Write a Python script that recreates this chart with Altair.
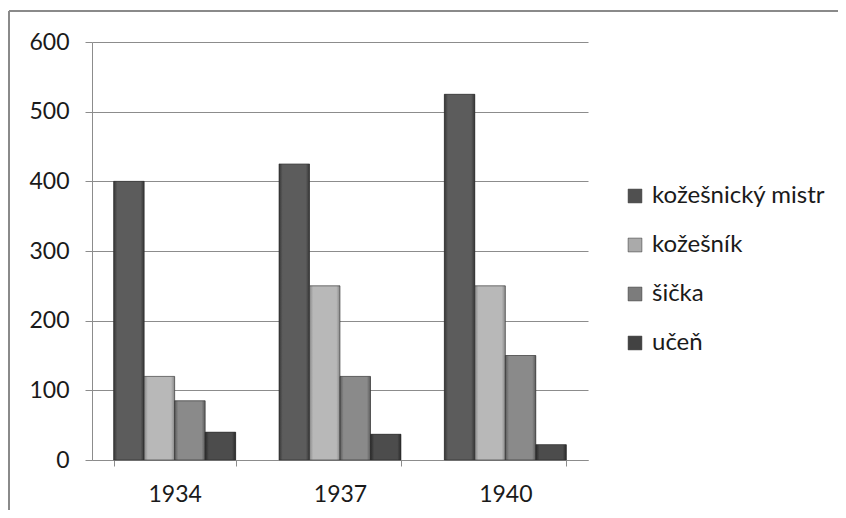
import altair as alt
import pandas as pd

years = ["1934", "1937", "1940"]
series = ["kožešnický mistr", "kožešník", "šička", "učeň"]
values = {
    "kožešnický mistr": [400, 425, 525],
    "kožešník": [120, 250, 250],
    "šička": [85, 120, 150],
    "učeň": [40, 37, 22],
}
colors = ["#505050", "#aaaaaa", "#7c7c7c", "#424242"]
edge_colors = ["#363636", "#888888", "#5c5c5c", "#2a2a2a"]
light_colors = ["#5c5c5c", "#b8b8b8", "#8a8a8a", "#4c4c4c"]

rows = []
for s in series:
    for y, v in zip(years, values[s]):
        rows.append({"rok": y, "profese": s, "pocet": v})
df = pd.DataFrame(rows)

FONT = "Lato"

x_enc = alt.X("rok:N", sort=years, title=None,
              scale=alt.Scale(paddingInner=0.262, paddingOuter=0.131),
              axis=alt.Axis(labelAngle=0, tickBand="extent", tickSize=6, labelPadding=17,
                            labelFontSize=23, labelColor="#1a1a1a", labelFont=FONT,
                            domainColor="#8c8c8c", tickColor="#8c8c8c", grid=False))
xo_enc = alt.XOffset("profese:N", sort=series,
                     scale=alt.Scale(domain=series, paddingInner=0, paddingOuter=0))
y_enc = alt.Y("pocet:Q", title=None,
              scale=alt.Scale(domain=[0, 600], nice=False),
              axis=alt.Axis(values=[0, 100, 200, 300, 400, 500, 600], tickSize=7, labelPadding=16,
                            labelFontSize=23, labelColor="#1a1a1a", labelFont=FONT,
                            domainColor="#8c8c8c", tickColor="#8c8c8c",
                            grid=True, gridColor="#8c8c8c", gridWidth=1))

bars = alt.Chart(df).mark_bar().encode(
    x=x_enc, xOffset=xo_enc, y=y_enc,
    color=alt.Color("profese:N", sort=series, title=None,
                    scale=alt.Scale(domain=series, range=colors),
                    legend=alt.Legend(orient="none", legendX=531, legendY=142,
                                      symbolType="square", symbolSize=190,
                                      symbolStrokeColor="#2a2a2a", symbolStrokeWidth=0.5,
                                      labelFontSize=24, labelFont=FONT, labelColor="#1a1a1a",
                                      labelLimit=400, rowPadding=25, labelOffset=5)),
)

overlays = []
for s, c_edge, c_mid in zip(series, edge_colors, light_colors):
    overlays.append(
        alt.Chart(df).transform_filter(alt.datum.profese == s).mark_bar(
            color=alt.Gradient(gradient="linear", x1=0, x2=1, y1=0, y2=0,
                               stops=[alt.GradientStop(offset=0, color=c_edge),
                                      alt.GradientStop(offset=0.12, color=c_mid),
                                      alt.GradientStop(offset=0.88, color=c_mid),
                                      alt.GradientStop(offset=1, color=c_edge)]),
            stroke="#2a2a2a", strokeWidth=0.8, strokeOpacity=0.7,
        ).encode(x=x_enc, xOffset=xo_enc, y=y_enc)
    )

frame_top = alt.Chart(df).mark_rule(color="#8a8a8a", strokeWidth=2).encode(
    x=alt.value(-83), x2=alt.value(760), y=alt.value(-31)
)
frame_left = alt.Chart(df).mark_rule(color="#8a8a8a", strokeWidth=2).encode(
    x=alt.value(-83), y=alt.value(-31), y2=alt.value(470)
)

chart = alt.layer(bars, *overlays, frame_top, frame_left).properties(
    width=496, height=418,
    padding={"left": 84, "top": 34, "right": 250, "bottom": 50},
    autosize=alt.AutoSizeParams(type="none"),
).configure_view(stroke=None)

chart.save("out.html", embed_options={"renderer": "svg", "actions": False})
